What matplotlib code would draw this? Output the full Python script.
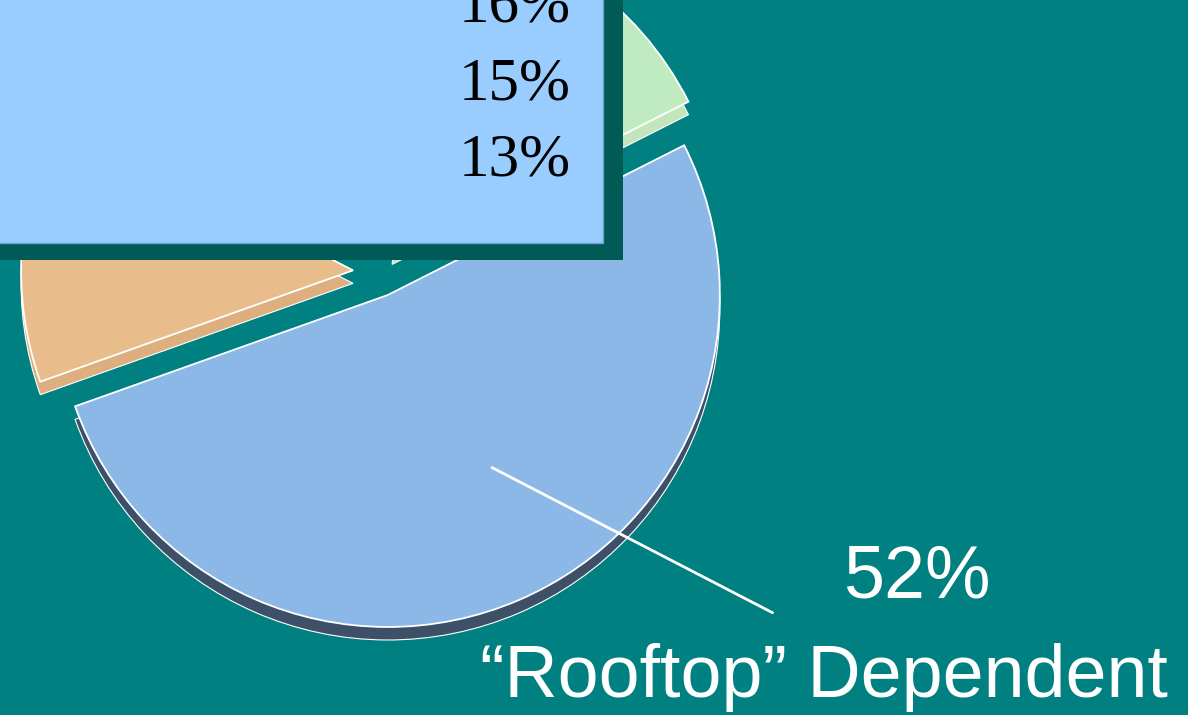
import matplotlib
matplotlib.use("Agg")
import matplotlib.pyplot as plt
import numpy as np
from matplotlib.patches import Rectangle

# ---- data ----
slice_names = ["Rooftop Dependent", "Cat B", "Cat C", "Cat D", "Cat E"]
slice_values = [52, 16, 15, 4, 13]
box_labels = ["16%", "15%", "13%"]
main_pct_label = "52%"
main_name_label = "\u201cRooftop\u201d Dependent"

top_colors = ["#8CB8E8", "#C0EAC0", "#F3E99A", "#D9A3C9", "#E9BC8C"]
side_colors = ["#3E5068", "#C4E4BC", "#D9CF80", "#B987AA", "#DDAF7E"]

W, H = 1188, 715
fig = plt.figure(figsize=(W / 100, H / 100), dpi=100)
fig.patch.set_facecolor("#008080")
ax = fig.add_axes([0, 0, 1, 1])
ax.set_facecolor("#008080")

radius = 332
center = (378, 443)
depth = 13
start = 199.6
explode = [25, 25, 40, 50, 25]   # offsets in pixel units

# side (3-D thickness) of the pie
ax.pie(slice_values, colors=side_colors, startangle=start, explode=explode,
       radius=radius, center=(center[0], center[1] - depth), counterclock=True,
       wedgeprops=dict(edgecolor="white", linewidth=0.8))
# top surface
wedges, _ = ax.pie(slice_values, colors=top_colors, startangle=start, explode=explode,
                   radius=radius, center=center, counterclock=True,
                   wedgeprops=dict(edgecolor="white", linewidth=1.3))

# leader line from the "Rooftop" wedge to its label
bw = wedges[0]
theta = np.deg2rad(bw.theta1 + 0.54 * (bw.theta2 - bw.theta1))
cx, cy = bw.center
p0 = (cx + 0.6 * bw.r * np.cos(theta), cy + 0.6 * bw.r * np.sin(theta))
ax.annotate("", xy=p0, xytext=(775, H - 614),
            arrowprops=dict(arrowstyle="-", color="white", lw=2))

ax.text(917, H - 597, main_pct_label, color="white", fontsize=53,
        family="Liberation Sans", ha="center", va="baseline")
ax.text(824, H - 697, main_name_label, color="white", fontsize=53,
        family="Liberation Sans", ha="center", va="baseline")

# legend-like box with shadow
ax.add_patch(Rectangle((-50, H - 260), 673, 400, facecolor="#005B57",
                       edgecolor="none", zorder=5))
ax.add_patch(Rectangle((-50, H - 243), 653, 400, facecolor="#99CCFF",
                       edgecolor="#6C9FD2", linewidth=1, zorder=6))
for i, lab in enumerate(box_labels):
    ax.text(571, H - 22 - 77 * i, lab, color="black", fontsize=44,
            family="Liberation Serif", ha="right", va="baseline", zorder=7)

ax.set_xlim(0, W)
ax.set_ylim(0, H)
ax.set_aspect("auto")
ax.axis("off")

fig.savefig("out.png", dpi=100, facecolor=fig.get_facecolor())
